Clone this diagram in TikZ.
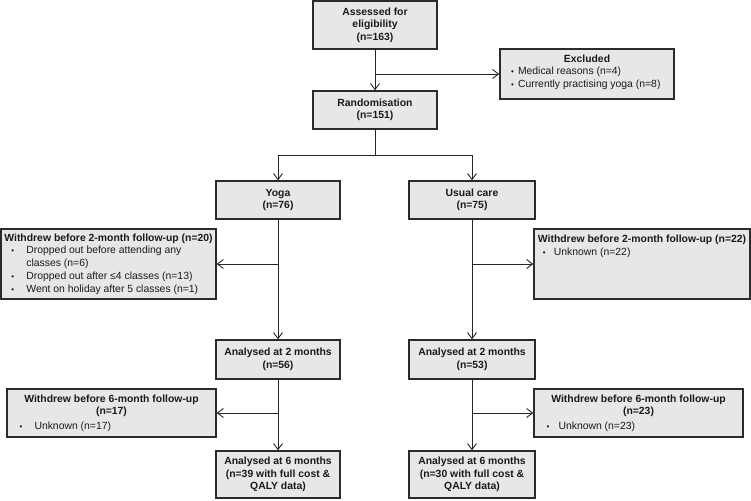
\documentclass[tikz,border=0pt]{standalone}
\usepackage{fontspec}
\setmainfont{Liberation Sans}
\usetikzlibrary{arrows.meta}
\definecolor{boxfill}{HTML}{E6E7E7}
\definecolor{boxline}{HTML}{2B2B2B}
\definecolor{txt}{HTML}{1A1A1A}
\newcommand{\bdot}{{\fontsize{8}{8}\selectfont •}}
\newcommand{\bline}[3]{\hspace*{#1}\makebox[#2][l]{\bdot}#3}
\begin{document}
\begin{tikzpicture}[x=1pt,y=-1pt,
  box/.style={draw=boxline, fill=boxfill, line width=1.4pt, inner sep=0pt,
    align=center, font=\fontsize{10.4}{12.4}\selectfont, text=txt},
  lbox/.style={box, align=left, font=\fontsize{10.4}{12.7}\selectfont},
  conn/.style={line width=0.9pt, draw=black!85},
  arr/.style={conn, -{Straight Barb[length=6pt,width=9pt]}}]
\useasboundingbox (0,0) rectangle (751,500);

\node[box, minimum width=124pt, minimum height=48pt] (assess) at (375,25)
  {\textbf{Assessed for}\\\textbf{eligibility}\\\textbf{(n=163)}};
\node[box, minimum width=174pt, minimum height=50pt] (excl) at (587,74)
  {\textbf{Excluded}\\
   \makebox[152pt][l]{\bline{0pt}{7pt}{Medical reasons (n=4)}}\\
   \makebox[152pt][l]{\bline{0pt}{7pt}{Currently practising yoga (n=8)}}\\[-6.4pt]\mbox{}};
\node[box, minimum width=124pt, minimum height=38pt] (rand) at (375,110)
  {\textbf{Randomisation}\\\textbf{(n=151)}};
\node[box, minimum width=124pt, minimum height=38pt] (yoga) at (278,200)
  {\textbf{Yoga}\\\textbf{(n=76)}};
\node[box, minimum width=126pt, minimum height=38pt] (usual) at (472,200)
  {\textbf{Usual care}\\\textbf{(n=75)}};

\node[lbox, minimum width=215pt, minimum height=70pt] (wd2L) at (108.5,264)
  {\textbf{Withdrew before 2-month follow-up (n=20)}\\
   \bline{7pt}{15pt}{Dropped out before attending any}\\
   \hspace*{22pt}classes (n=6)\\
   \bline{7pt}{15pt}{Dropped out after ≤4 classes (n=13)}\\
   \bline{7pt}{15pt}{Went on holiday after 5 classes (n=1)}};
\node[lbox, minimum width=216pt, minimum height=70pt] (wd2R) at (642,264)
  {\textbf{Withdrew before 2-month follow-up (n=22)}\\
   \bline{5pt}{11pt}{Unknown (n=22)}\\
   \mbox{}\\\mbox{}\\\mbox{}};

\node[box, minimum width=124pt, minimum height=39pt] (an2L) at (278,359.5)
  {\textbf{Analysed at 2 months}\\\textbf{(n=56)}};
\node[box, minimum width=126pt, minimum height=39pt] (an2R) at (472,359.5)
  {\textbf{Analysed at 2 months}\\\textbf{(n=53)}};

\node[box, minimum width=209pt, minimum height=48pt] (wd6L) at (111.5,413)
  {\textbf{Withdrew before 6-month follow-up}\\\textbf{(n=17)}\\[2.5pt]
   \makebox[174pt][l]{\bline{-5pt}{15pt}{Unknown (n=17)}}};
\node[box, minimum width=209pt, minimum height=48pt] (wd6R) at (638.5,413)
  {\textbf{Withdrew before 6-month follow-up}\\\textbf{(n=23)}\\[2.5pt]
   \makebox[174pt][l]{\bline{-5pt}{12pt}{Unknown (n=23)}}};

\node[box, minimum width=124pt, minimum height=47pt] (an6L) at (278,474.5)
  {\textbf{Analysed at 6 months}\\\textbf{(n=39 with full cost \&}\\\textbf{QALY data)}};
\node[box, minimum width=126pt, minimum height=47pt] (an6R) at (472,474.5)
  {\textbf{Analysed at 6 months}\\\textbf{(n=30 with full cost \&}\\\textbf{QALY data)}};

\coordinate (jex) at (375,74);
\coordinate (br) at (375,155);
\coordinate (jy2) at (278,264);
\coordinate (ju2) at (472,264);
\coordinate (jy6) at (278,413);
\coordinate (ju6) at (472,413);

\draw[arr] (assess) -- (rand);
\draw[arr] (jex) -- (excl);
\draw[conn] (rand) -- (br);
\draw[arr] (br) -| (yoga);
\draw[arr] (br) -| (usual);
\draw[arr] (yoga) -- (an2L);
\draw[arr] (usual) -- (an2R);
\draw[arr] (jy2) -- (wd2L);
\draw[arr] (ju2) -- (wd2R);
\draw[arr] (an2L) -- (an6L);
\draw[arr] (an2R) -- (an6R);
\draw[arr] (jy6) -- (wd6L);
\draw[arr] (ju6) -- (wd6R);
\end{tikzpicture}
\end{document}
